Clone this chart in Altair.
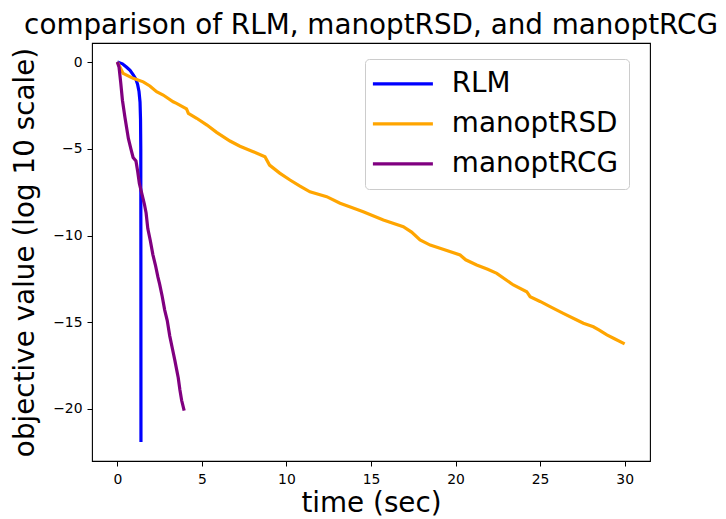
import altair as alt
import pandas as pd

series_names = ["RLM", "manoptRSD", "manoptRCG"]
series_colors = ["#0000ff", "#ffa500", "#800080"]

rlm_t = [0.0, 0.3, 0.55, 0.75, 0.95, 1.1, 1.2, 1.28, 1.34, 1.37, 1.385, 1.39, 1.395]
rlm_v = [0.0, -0.1, -0.3, -0.48, -0.75, -1.0, -1.3, -1.7, -2.3, -3.3, -5.0, -10.0, -21.9]

rsd_t = [0.0, 0.34, 0.93, 1.53, 1.92, 2.32, 2.71, 3.30, 3.50, 4.09, 4.2, 4.69, 5.3, 5.87,
         6.66, 7.25, 8.0, 8.73, 9.0, 9.6, 10.21, 10.8, 11.39, 12.38, 13.17, 13.9, 14.54,
         15.73, 16.91, 17.4, 17.9, 18.5, 19.08, 20.27, 20.6, 21.25, 21.9, 22.44, 23.42,
         24.21, 24.41, 25.0, 25.59, 26.4, 27.17, 27.56, 28.15, 28.5, 28.95, 29.4, 30.0]
rsd_v = [0.0, -0.65, -0.94, -1.14, -1.38, -1.71, -1.90, -2.29, -2.38, -2.70, -2.96, -3.24,
         -3.63, -4.05, -4.55, -4.85, -5.15, -5.46, -5.94, -6.4, -6.80, -7.15, -7.48, -7.76,
         -8.14, -8.4, -8.63, -9.11, -9.49, -9.8, -10.26, -10.55, -10.74, -11.12, -11.4,
         -11.70, -11.95, -12.18, -12.85, -13.24, -13.53, -13.8, -14.10, -14.5, -14.87,
         -15.06, -15.26, -15.45, -15.73, -15.95, -16.25]

rcg_t = [0.0, 0.1, 0.2, 0.3, 0.45, 0.55, 0.65, 0.8, 0.93, 1.1, 1.2, 1.3, 1.45, 1.6, 1.7,
         1.8, 1.95, 2.1, 2.25, 2.4, 2.5, 2.65, 2.8, 2.95, 3.1, 3.25, 3.4, 3.5, 3.6, 3.7,
         3.8, 3.95]
rcg_v = [0.0, -0.3, -1.2, -2.2, -3.2, -3.8, -4.4, -5.0, -5.5, -5.7, -6.3, -7.0, -7.6, -8.2,
         -8.7, -9.6, -10.3, -11.1, -11.7, -12.4, -12.8, -13.5, -14.3, -14.9, -15.8, -16.5,
         -17.2, -17.7, -18.2, -18.9, -19.5, -20.1]

x_ticks = [0, 5, 10, 15, 20, 25, 30]
y_ticks = [0, -5, -10, -15, -20]

rows = []
for name, ts, vs in [("RLM", rlm_t, rlm_v), ("manoptRSD", rsd_t, rsd_v), ("manoptRCG", rcg_t, rcg_v)]:
    for i, (t, v) in enumerate(zip(ts, vs)):
        rows.append({"series": name, "t": t, "v": v, "i": i})
df = pd.DataFrame(rows)

FONT = "DejaVu Sans"

chart = alt.Chart(df).mark_line(strokeWidth=3.2, clip=True).encode(
    x=alt.X("t:Q", scale=alt.Scale(domain=[-1.5, 31.5], nice=False, zero=False),
            axis=alt.Axis(values=x_ticks, title="time (sec)", labelPadding=6,
                          titleBaseline="alphabetic", titleY=50)),
    y=alt.Y("v:Q", scale=alt.Scale(domain=[-23.0, 1.1], nice=False, zero=False),
            axis=alt.Axis(values=y_ticks, title="objective value (log 10 scale)", labelPadding=5,
                          titleBaseline="alphabetic", titleX=-59)),
    color=alt.Color("series:N", sort=series_names,
                    scale=alt.Scale(domain=series_names, range=series_colors),
                    legend=alt.Legend(title=None, orient="none", legendX=273, legendY=16,
                                      symbolType="M-3,0H3", symbolSize=400, symbolStrokeWidth=3.2,
                                      symbolOffset=13, labelOffset=35,
                                      labelFontSize=27.8, labelFont=FONT, labelColor="black",
                                      fillColor="white", strokeColor="#cccccc", cornerRadius=4,
                                      padding=11, rowPadding=11, labelLimit=400)),
    order="i:Q",
).properties(
    width=558,
    height=418,
    title=alt.TitleParams("comparison of RLM, manoptRSD, and manoptRCG", font=FONT, fontSize=27.8,
                          fontWeight="normal", color="black", anchor="middle", frame="group",
                          offset=3),
    autosize=alt.AutoSizeParams(type="none"),
    padding={"left": 84, "top": 35, "right": 68, "bottom": 58},
).configure_view(
    stroke="black", strokeWidth=1.1
).configure_axis(
    domain=False, grid=False, ticks=True, tickColor="black", tickSize=5, tickWidth=1,
    labelFont=FONT, labelFontSize=13.9, labelColor="black",
    titleFont=FONT, titleFontSize=27.8, titleFontWeight="normal", titleColor="black",
)

chart.save("out.html", embed_options={"renderer": "svg", "actions": False})
